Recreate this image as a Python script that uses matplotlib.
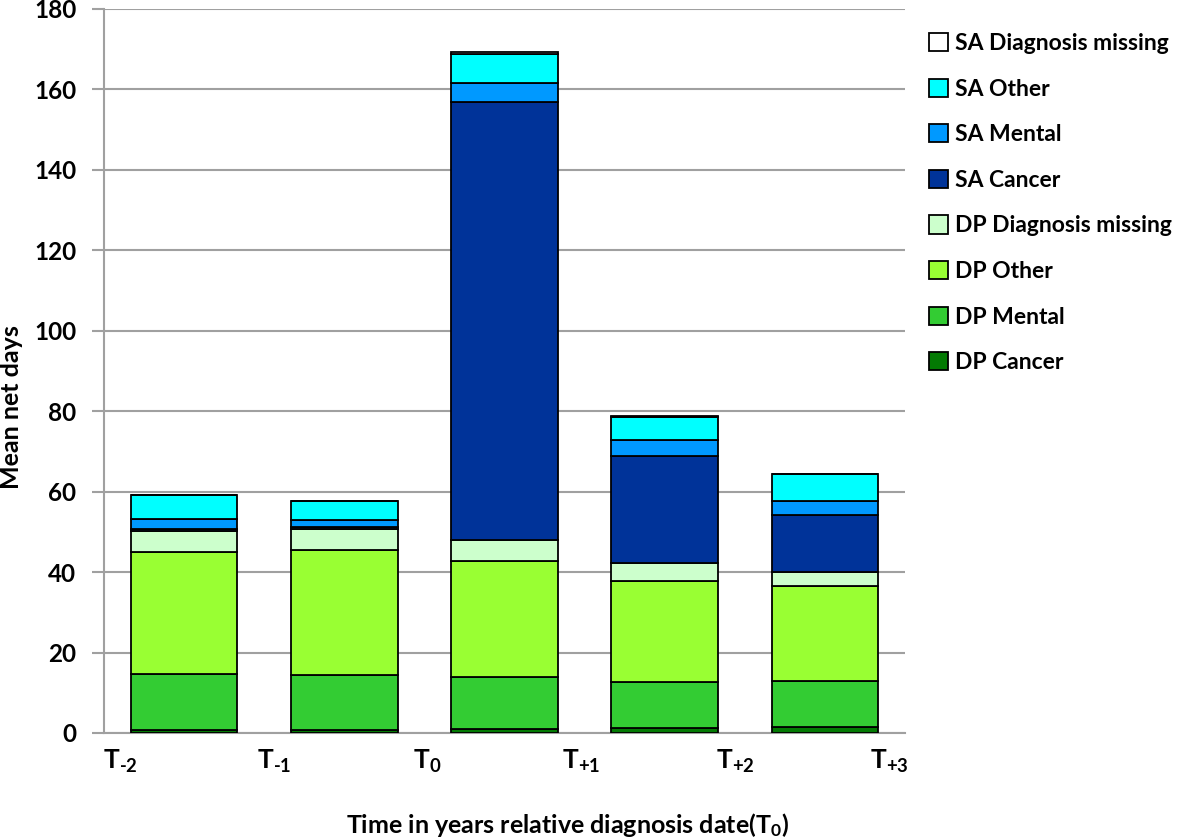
import matplotlib
matplotlib.use("Agg")
import matplotlib.pyplot as plt
from matplotlib.patches import Patch
import numpy as np

plt.rcParams['font.family'] = ['Lato', 'DejaVu Sans']
plt.rcParams['font.weight'] = 'bold'
plt.rcParams['mathtext.fontset'] = 'custom'
plt.rcParams['mathtext.rm'] = 'Lato:bold'
plt.rcParams['mathtext.default'] = 'rm'

periods = ["T$_{\\text{-2}}$", "T$_{\\text{-1}}$", "T$_{\\text{0}}$",
           "T$_{\\text{+1}}$", "T$_{\\text{+2}}$", "T$_{\\text{+3}}$"]

series_names = ["DP Cancer", "DP Mental", "DP Other", "DP Diagnosis missing",
                "SA Cancer", "SA Mental", "SA Other", "SA Diagnosis missing"]
dp_cancer = [0.7, 0.7, 0.9, 1.2, 1.4]
dp_mental = [14.0, 13.7, 12.9, 11.6, 11.6]
dp_other = [30.2, 31.0, 29.0, 24.9, 23.5]
dp_missing = [5.2, 5.2, 5.2, 4.5, 3.5]
sa_cancer = [0.5, 0.7, 108.9, 26.7, 14.2]
sa_mental = [2.5, 1.7, 4.8, 3.9, 3.6]
sa_other = [6.0, 4.6, 7.0, 5.8, 6.6]
sa_missing = [0.1, 0.1, 0.6, 0.1, 0.1]

colors = ['#037A03', '#33CC33', '#99FF33', '#CCFFCC',
          '#003399', '#0099FF', '#00FFFF', '#FFFFFF']

series = [dp_cancer, dp_mental, dp_other, dp_missing,
          sa_cancer, sa_mental, sa_other, sa_missing]

fig = plt.figure(figsize=(11.81, 8.39), dpi=100)
W, H = 1181, 839
ax = fig.add_axes([104 / W, 1 - 733 / H, (905 - 104) / W, (733 - 9) / H])

x = np.arange(len(dp_cancer))
bottom = np.zeros(len(x))
for vals, col, name in zip(series, colors, series_names):
    ax.bar(x, vals, bottom=bottom, width=0.665, color=col, edgecolor='black',
           linewidth=1.3, label=name, zorder=3)
    bottom += np.array(vals)

ax.set_xlim(-0.5, 4.5)
ax.set_ylim(0, 180)
ax.set_yticks(np.arange(0, 181, 20))
ax.yaxis.grid(True, color='#A0A0A0', linewidth=1.5, zorder=0)
ax.set_axisbelow(True)
for s in ['top', 'right']:
    ax.spines[s].set_visible(False)
ax.spines['left'].set_color('#A0A0A0')
ax.spines['left'].set_linewidth(1.5)
ax.spines['bottom'].set_color('#A0A0A0')
ax.spines['bottom'].set_linewidth(1.5)
ax.tick_params(axis='y', length=9, width=1.5, color='#A0A0A0', labelsize=17.5, pad=11)
ax.tick_params(axis='x', length=0, labelbottom=False)
for lab in ax.get_yticklabels():
    lab.set_fontweight('bold')

# period labels at boundaries
for i, p in enumerate(periods):
    ax.text(-0.4 + 0.96 * i, -3.8, p, ha='center', va='top', fontsize=19,
            fontweight='bold', transform=ax.transData)

fig.text(12 / W, 1 - 407 / H, "Mean net days", rotation=90, ha='center', va='center',
         fontsize=18, fontweight='bold')
fig.text(568 / W, 1 - 825 / H, "Time in years relative diagnosis date(T$_{\\text{0}}$)",
         ha='center', va='center', fontsize=18, fontweight='bold')

handles = [Patch(facecolor=c, edgecolor='black', linewidth=1.3, label=n)
           for c, n in zip(colors, series_names)][::-1]
leg = fig.legend(handles=handles, loc='upper left', bbox_to_anchor=(929 / W, 1 - 33 / H),
                 frameon=False, fontsize=16.5, handlelength=0.85, handleheight=0.85,
                 handletextpad=0.3, labelspacing=1.07, borderaxespad=0, borderpad=0)
for t in leg.get_texts():
    t.set_fontweight('bold')

fig.savefig("out.png", dpi=100)
